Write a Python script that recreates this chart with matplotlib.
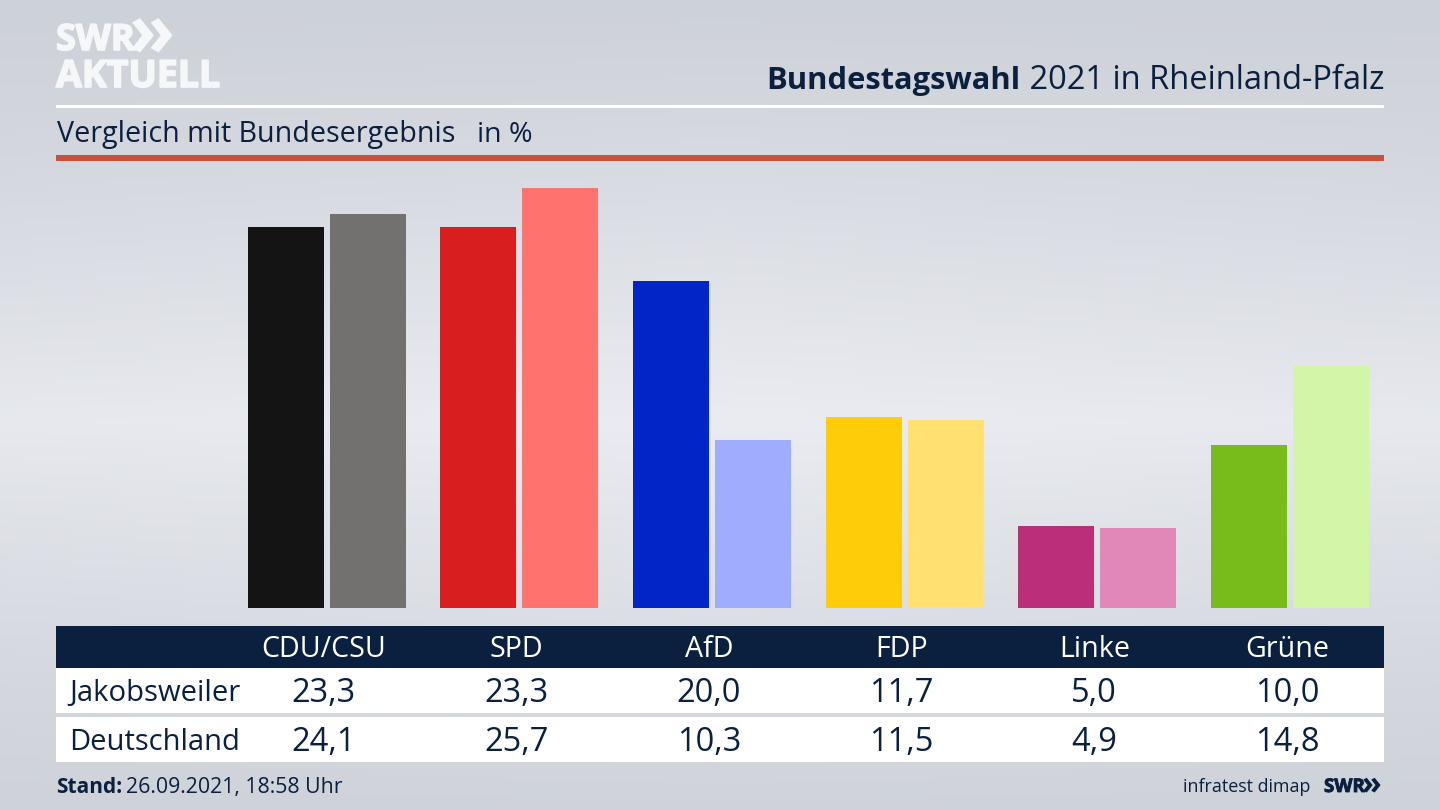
import numpy as np
import matplotlib
matplotlib.use("Agg")
import matplotlib.pyplot as plt
import matplotlib.patheffects as pe
from matplotlib.patches import Rectangle

parties = ["CDU/CSU", "SPD", "AfD", "FDP", "Linke", "Grüne"]
jakobsweiler = [23.3, 23.3, 20.0, 11.7, 5.0, 10.0]
deutschland = [24.1, 25.7, 10.3, 11.5, 4.9, 14.8]
colors_local = ["#141414", "#d81e1e", "#0026c8", "#ffcc0a", "#bb2f78", "#78bc1c"]
colors_national = ["#72716f", "#ff726e", "#9fadff", "#ffe070", "#e088b8", "#d2f5a8"]
row_labels = ["Jakobsweiler", "Deutschland"]

NAVY = "#0b1f3f"
LOGO = "#f6f7f9"
FONT = ["Open Sans", "DejaVu Sans"]
plt.rcParams["font.family"] = FONT

fig = plt.figure(figsize=(14.4, 8.1), dpi=100)

# page layer in pixel coordinates
page = fig.add_axes([0, 0, 1, 1])
page.axis("off")

yy, xx = np.mgrid[0:1:162j, 0:1:288j]
v = np.clip(1 - np.abs(yy - 0.52) / 0.52, 0, 1)
h = 1 - 0.35 * np.abs(xx - 0.5) * 2 * (np.abs(yy - 0.52) * 1.6 + 0.35)
t = np.clip(v ** 1.05 * h, 0, 1)[..., None]
dark = np.array([0xcd, 0xd1, 0xd8]) / 255
light = np.array([0xea, 0xec, 0xf1]) / 255
page.imshow(dark + (light - dark) * t, extent=(0, 1440, 810, 0), aspect="auto", zorder=0)
page.set_xlim(0, 1440)
page.set_ylim(810, 0)

# header
heavy = [pe.withStroke(linewidth=1.2, foreground=LOGO)]
page.add_patch(Rectangle((56, 104.5), 1328, 3, color="white", lw=0, zorder=2))
page.add_patch(Rectangle((56, 155), 1328, 5.5, color="#c8503c", lw=0, zorder=2))
page.text(56, 50, "SWR", fontsize=26, fontweight="bold", color=LOGO, va="baseline",
          path_effects=heavy, zorder=3)
page.text(129, 56, "»", fontsize=54, fontweight="bold", color=LOGO, va="baseline", zorder=3)
page.text(56, 87, "AKTUELL", fontsize=27, fontweight="bold", color=LOGO, va="baseline",
          path_effects=heavy, zorder=3)
title = page.text(1384, 89, " 2021 in Rheinland-Pfalz", fontsize=23.5, color=NAVY, ha="right", va="baseline", zorder=3)
fig.canvas.draw()
bb = title.get_window_extent()
page.text(bb.x0, 89, "Bundestagswahl", fontsize=22.2, fontweight="bold", color=NAVY, ha="right", va="baseline", zorder=3)
page.text(57, 142, "Vergleich mit Bundesergebnis", fontsize=20.65, color=NAVY, va="baseline", zorder=3)
page.text(477, 142, "in %", fontsize=20.5, color=NAVY, va="baseline", zorder=3)

# bars, positioned by their own axes
left, right, top, base = 230.0, 1386.0, 170.0, 608.0
bars = fig.add_axes([left / 1440, 1 - base / 810, (right - left) / 1440, (base - top) / 810])
bars.patch.set_alpha(0)
bars.axis("off")
spacing = 192.7
bars.set_xlim((left - 326.5) / spacing, (right - 326.5) / spacing)
bars.set_ylim(0, (base - top) / 16.35)
x = np.arange(len(parties))
bar_w = 76 / spacing
off = 41 / spacing
bars.bar(x - off, jakobsweiler, bar_w, color=colors_local)
bars.bar(x + off, deutschland, bar_w, color=colors_national)

# table
page.add_patch(Rectangle((56, 626), 1328, 42, color=NAVY, lw=0, zorder=2))
page.add_patch(Rectangle((56, 668), 1328, 45, color="white", lw=0, zorder=2))
page.add_patch(Rectangle((56, 717), 1328, 45, color="white", lw=0, zorder=2))
col_x = 323.5 + spacing * x
for cx, name, a, b in zip(col_x, parties, jakobsweiler, deutschland):
    page.text(cx, 657, name, fontsize=20.6, color="white", ha="center", va="baseline", zorder=3)
    page.text(cx, 702, f"{a:.1f}".replace(".", ","), fontsize=23.5, color=NAVY, ha="center", va="baseline", zorder=3)
    page.text(cx, 751, f"{b:.1f}".replace(".", ","), fontsize=23.5, color=NAVY, ha="center", va="baseline", zorder=3)
page.text(69, 701, row_labels[0], fontsize=21.1, color=NAVY, va="baseline", zorder=3)
page.text(69.5, 750, row_labels[1], fontsize=21, color=NAVY, va="baseline", zorder=3)

# footer
page.text(56, 793, "Stand:", fontsize=15, fontweight="bold", color=NAVY, va="baseline", zorder=3)
page.text(126, 793, "26.09.2021, 18:58 Uhr", fontsize=15.35, color=NAVY, va="baseline", zorder=3)
page.text(1183, 792, "infratest dimap", fontsize=12.9, color=NAVY, va="baseline", zorder=3)
page.text(1324, 792, "SWR", fontsize=13.5, fontweight="bold", color=NAVY, va="baseline",
          path_effects=[pe.withStroke(linewidth=0.6, foreground=NAVY)], zorder=3)
page.text(1362, 793, "»", fontsize=23, fontweight="bold", color=NAVY, va="baseline", zorder=3)

fig.savefig("out.png", dpi=100)
